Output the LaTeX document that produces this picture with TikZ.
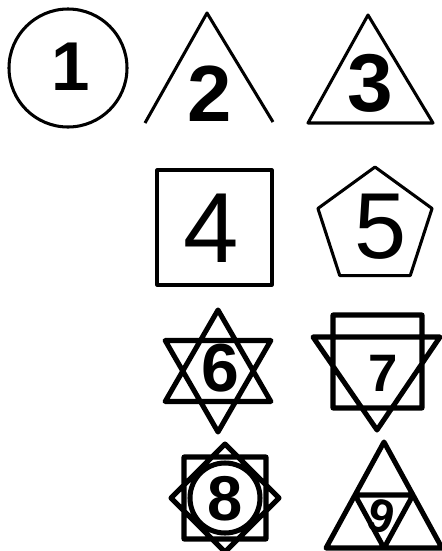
\documentclass[tikz,border=0pt]{standalone}
\usepackage{fontspec}
\newfontfamily\angkafont{Liberation Sans}
\usetikzlibrary{calc}

\begin{document}
\begin{tikzpicture}[
    x=0.03cm, y=-0.03cm,
    bentuk/.style={draw, line width=2.6pt, line join=round},
    tebal/.style={draw, line width=4.3pt, line join=round},
    angka/.style={inner sep=0pt, font=\angkafont\bfseries\fontsize{#1}{#1}\selectfont},
    tipis/.style={font=\angkafont\fontsize{#1}{#1}\selectfont}
  ]
    % Satuan 1 = 1 piksel gambar asli (442 x 551), sumbu y ke bawah.
    \useasboundingbox (0,0) rectangle (442,551);
    \draw[bentuk] (68,68) circle[radius=59];
    \node[angka=59pt] (n1) at (71,67) {1};
    \draw[bentuk] (145,123) -- (207,13) -- (273,122);
    \node[angka=68pt] (n2) at (210,94) {2};
    \draw[bentuk] (308,123) -- (368,15) -- (433,123) -- cycle;
    \node[angka=70pt] (n3) at (370,83) {3};
    \draw[bentuk] (157,170) rectangle (272,285);
    \node[angka=85pt, tipis=85pt] (n4) at (211,228) {4};
    \draw[bentuk, shift={(375,227)}]
      (270:60) -- (342:60) -- (54:60) -- (126:60) -- (198:60) -- cycle;
    \node[angka=80pt, tipis=80pt] (n5) at (381,227) {5};
    \draw[tebal, shift={(218,371)}]
      (270:61) -- (30:61) -- (150:61) -- cycle
      (90:61) -- (210:61) -- (330:61) -- cycle;
    \node[angka=58pt] (n6) at (220,368) {6};
    \draw[tebal] (333,315) rectangle (422,408)
      (313,337) -- (440,337) -- (377,430) -- cycle;
    \node[angka=45pt] (n7) at (383,373) {7};
    \draw[tebal, shift={(225,498)}] (-41,-41) rectangle (41,41)
      (270:54) -- (0:54) -- (90:54) -- (180:54) -- cycle
      (0,0) circle[radius=35];
    \node[angka=54pt] (n8) at (225,499) {8};
    \draw[tebal] (384,442) -- (442,548) -- (326,548) -- cycle
      (355,495) -- (413,495) -- (384,548) -- cycle;
    \node[angka=40pt, rotate=-15] (n9) at (381,516) {9};
  \end{tikzpicture}
\end{document}
